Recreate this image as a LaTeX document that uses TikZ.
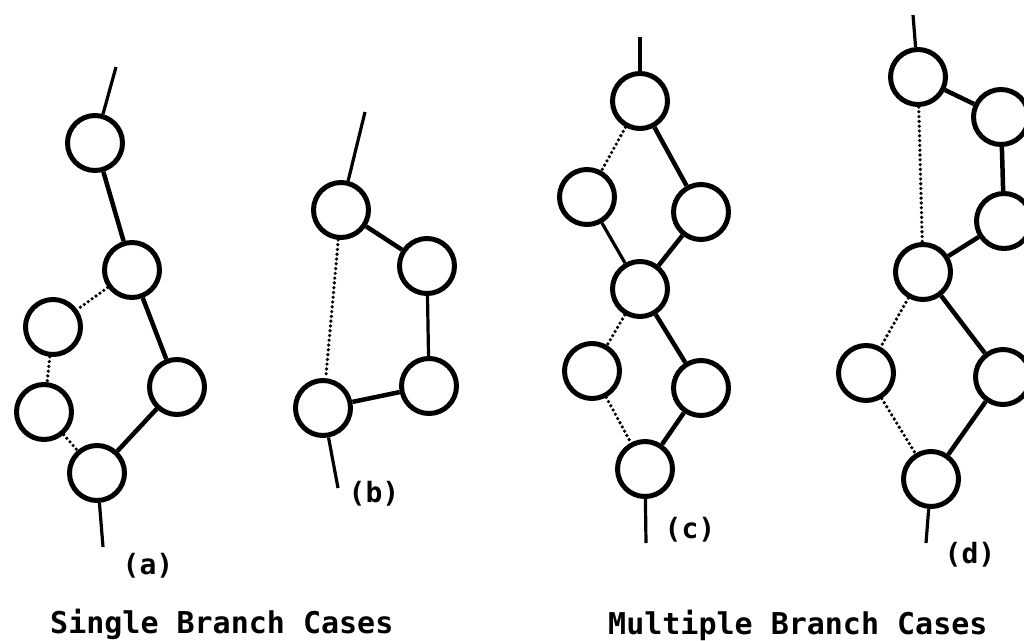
\documentclass[tikz,border=0pt]{standalone}
\usepackage{fontspec}
\setmonofont{DejaVu Sans Mono}
\begin{document}
\begin{tikzpicture}[x=1pt,y=-1pt,
  ring/.style={circle,draw,line width=5pt,inner sep=0pt,minimum size=55pt},
  solidln/.style={line width=4.5pt},
  thinln/.style={line width=3.2pt},
  dotln/.style={line width=3.6pt,line cap=round,dash pattern=on 0pt off 4.8pt},
  lbl/.style={font=\ttfamily\bfseries\fontsize{28}{32}\selectfont,inner sep=0pt},
  caption/.style={font=\ttfamily\bfseries\fontsize{30}{36}\selectfont,inner sep=0pt,anchor=base west}]
\useasboundingbox (0,0) rectangle (1024,640);
\clip (0,0) rectangle (1024,640);
% ---- (a)
\node[ring] (A1) at (95,143) {};
\node[ring] (A2) at (132,270) {};
\node[ring] (A3) at (53,327) {};
\node[ring] (A4) at (44,412) {};
\node[ring] (A5) at (97,473) {};
\node[ring] (A6) at (177,387) {};
\coordinate (ta) at (116,67);
\coordinate (ba) at (103,547);
\draw[thinln] (ta) -- (A1);
\draw[thinln] (A5) -- (ba);
\draw[solidln] (A1) -- (A2);
\draw[dotln] (A2) -- (A3);
\draw[dotln] (A3) -- (A4);
\draw[dotln] (A4) -- (A5);
\draw[solidln] (A2) -- (A6);
\draw[solidln] (A6) -- (A5);
\node[lbl] (la) at (148,566) {(a)};
% ---- (b)
\node[ring] (B1) at (341,210) {};
\node[ring] (B2) at (427,266) {};
\node[ring] (B3) at (323,408) {};
\node[ring] (B4) at (429,386) {};
\coordinate (tb) at (365,112);
\coordinate (bb) at (338,488);
\draw[thinln] (tb) -- (B1);
\draw[thinln] (B3) -- (bb);
\draw[solidln] (B1) -- (B2);
\draw[dotln] (B1) -- (B3);
\draw[thinln] (B2) -- (B4);
\draw[solidln] (B3) -- (B4);
\node[lbl] (lb) at (374,494) {(b)};
% ---- (c)
\node[ring] (C1) at (640,101) {};
\node[ring] (C2) at (587,197) {};
\node[ring] (C3) at (701,212) {};
\node[ring] (C4) at (640,289) {};
\node[ring] (C5) at (592,371) {};
\node[ring] (C6) at (701,388) {};
\node[ring] (C7) at (645,469) {};
\coordinate (tc) at (640,37);
\coordinate (bc) at (646,543);
\draw[thinln] (tc) -- (C1);
\draw[thinln] (C7) -- (bc);
\draw[dotln] (C1) -- (C2);
\draw[solidln] (C1) -- (C3);
\draw[thinln] (C2) -- (C4);
\draw[solidln] (C3) -- (C4);
\draw[dotln] (C4) -- (C5);
\draw[solidln] (C4) -- (C6);
\draw[dotln] (C5) -- (C7);
\draw[solidln] (C6) -- (C7);
\node[lbl] (lc) at (690,530) {(c)};
% ---- (d)
\node[ring] (D1) at (918,77) {};
\node[ring] (D2) at (1001,117) {};
\node[ring] (D3) at (1004,221) {};
\node[ring] (D4) at (923,272) {};
\node[ring] (D5) at (866,373) {};
\node[ring] (D6) at (1003,377) {};
\node[ring] (D7) at (931,479) {};
\coordinate (td) at (913,15);
\coordinate (bd) at (926,543);
\draw[thinln] (td) -- (D1);
\draw[thinln] (D7) -- (bd);
\draw[solidln] (D1) -- (D2);
\draw[solidln] (D2) -- (D3);
\draw[dotln] (D1) -- (D4);
\draw[solidln] (D3) -- (D4);
\draw[dotln] (D4) -- (D5);
\draw[solidln] (D4) -- (D6);
\draw[dotln] (D5) -- (D7);
\draw[solidln] (D6) -- (D7);
\node[lbl] (ld) at (970,555) {(d)};
% ---- captions
\node[caption] (cs) at (50,633) {Single Branch Cases};
\node[caption] (cm) at (608,634) {Multiple Branch Cases};
\end{tikzpicture}
\end{document}
